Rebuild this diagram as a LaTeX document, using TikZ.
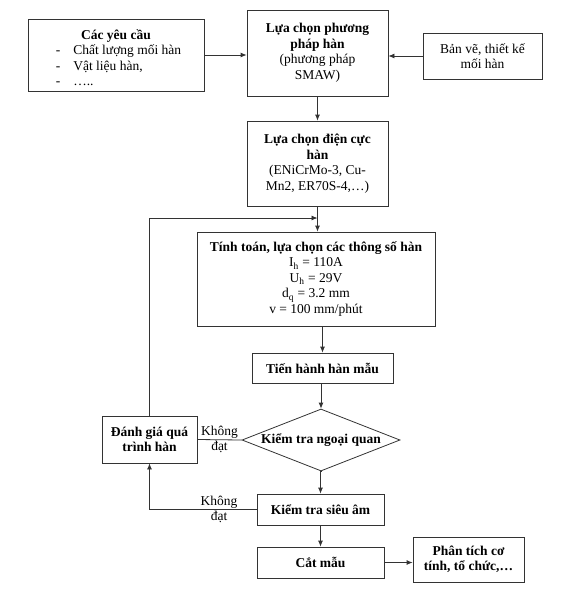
\documentclass[tikz,border=0pt]{standalone}
\usepackage{fontspec}
\setmainfont{Liberation Serif}
\usetikzlibrary{shapes.geometric,arrows.meta}

\begin{document}
\begin{tikzpicture}[x=1pt,y=-1pt,
  box/.style={draw=black!80,line width=0.8pt,align=center,inner sep=2pt,
    font=\fontsize{13.5}{15.5}\selectfont},
  arr/.style={draw=black!80,line width=0.8pt,-{Latex[length=6pt,width=5pt]}},
  line/.style={draw=black!80,line width=0.8pt},
  lbl/.style={font=\fontsize{13.5}{15.5}\selectfont,inner sep=1pt}]

  % Fix the size of the picture
  \useasboundingbox (0,0) rectangle (571,600);

  % Draw the boxes at the top
  \node[box,inner ysep=0pt,minimum width=176pt,minimum height=72pt] (req) at (116,55)
    {\rule{0pt}{20pt}\textbf{Các yêu cầu}\\
     \hspace*{5pt}\begin{tabular}{@{}l@{\hspace{13pt}}l@{}}
       - & Chất lượng mối hàn\\
       - & Vật liệu hàn,\\
       - & …..
     \end{tabular}};
  \node[box,minimum width=141pt,minimum height=86pt] (method) at (317.5,53)
    {\textbf{Lựa chọn phương}\\\textbf{pháp hàn}\\(phương pháp\\SMAW)};
  \node[box,minimum width=119pt,minimum height=46pt] (drawing) at (482.5,56)
    {Bản vẽ, thiết kế\\mối hàn};

  % Draw the electrode and parameter boxes
  \node[box,minimum width=141pt,minimum height=85pt] (electrode) at (317.5,163.5)
    {\textbf{Lựa chọn điện cực}\\\textbf{hàn}\\(ENiCrMo-3, Cu-\\Mn2, ER70S-4,…)};
  \node[box,minimum width=238pt,minimum height=94pt] (params) at (316,279)
    {\textbf{Tính toán, lựa chọn các thông số hàn}\\
     I\textsubscript{h} = 110A\\U\textsubscript{h} = 29V\\
     d\textsubscript{q} = 3.2 mm\\v = 100 mm/phút};
  \node[box,minimum width=141pt,minimum height=30pt] (trial) at (322.5,368)
    {\textbf{Tiến hành hàn mẫu}};

  % The check as a diamond
  \node[box,shape=diamond,inner sep=0pt,aspect=2.55,
    minimum width=158pt,minimum height=62pt] (visual) at (321,440)
    {\textbf{Kiểm tra ngoại quan}};

  % Evaluation box on the left
  \node[box,minimum width=95pt,minimum height=47pt] (evaluate) at (149.5,439.5)
    {\textbf{Đánh giá quá}\\\textbf{trình hàn}};

  % Boxes at the bottom
  \node[box,minimum width=127pt,minimum height=31pt] (ultra) at (320.5,509.5)
    {\textbf{Kiểm tra siêu âm}};
  \node[box,minimum width=127pt,minimum height=31pt] (cut) at (320.5,562.5)
    {\textbf{Cắt mẫu}};
  \node[box,minimum width=111pt,minimum height=45pt] (analysis) at (468.5,559.5)
    {\textbf{Phân tích cơ}\\\textbf{tính, tổ chức,…}};

  % Arrows into the method box
  \draw[arr] (req.east) -- (method.west |- req.east);
  \draw[arr] (drawing.west) -- (method.east |- drawing.west);

  % Arrows down the main line
  \draw[arr] (method.south) -- (electrode.north);
  \draw[arr] (electrode.south) -- (electrode.south |- params.north);
  \draw[arr] (trial.north |- params.south) -- (trial.north);
  \draw[arr] (visual.north |- trial.south) -- (visual.north);
  \draw[arr] (visual.south) -- (ultra.north |- visual.south) -- (ultra.north);
  \draw[arr] (ultra.south) -- (cut.north);
  \draw[arr] (cut.east) -- (analysis.west |- cut.east);

  % Feedback loop back to the parameters
  \coordinate (join) at (317.5,218);
  \draw[arr] (evaluate.north) |- (join);

  % Failed checks go to the evaluation
  \draw[line] (visual.west) -- node[lbl,above]{Không} node[lbl,below]{đạt}
    (evaluate.east);
  \draw[arr] (ultra.west) -- node[lbl,pos=0.35,above]{Không}
    node[lbl,pos=0.35,below]{đạt} (evaluate.south |- ultra.west)
    -- (evaluate.south);

\end{tikzpicture}
\end{document}
